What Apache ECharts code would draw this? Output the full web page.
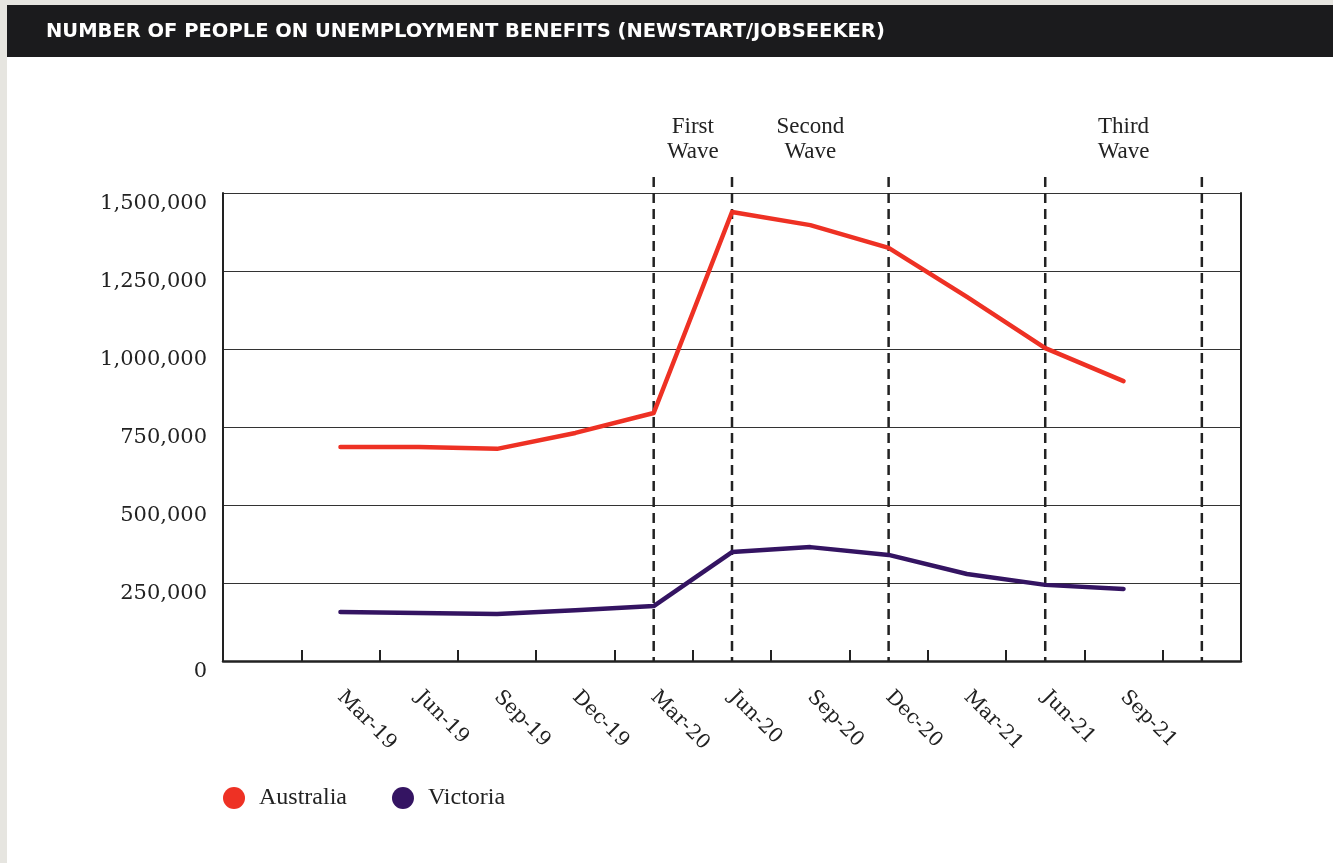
<!DOCTYPE html>
<html>
<head>
<meta charset="utf-8">
<script src="https://cdn.jsdelivr.net/npm/echarts@6/dist/echarts.min.js"></script>
<style>
  html, body { margin: 0; padding: 0; background: #ffffff; }
  #chart { width: 1333px; height: 863px; }
</style>
</head>
<body>
<div id="chart"></div>
<script>
// Quarterly counts of people on Newstart / JobSeeker payments
const titleText = 'NUMBER OF PEOPLE ON UNEMPLOYMENT BENEFITS (NEWSTART/JOBSEEKER)';
// blank slots at both ends keep a margin of one quarter either side
const quarters = ['', 'Mar-19', 'Jun-19', 'Sep-19', 'Dec-19', 'Mar-20', 'Jun-20',
                  'Sep-20', 'Dec-20', 'Mar-21', 'Jun-21', 'Sep-21', ' '];
const australia = [null, 686000, 686000, 680000, 731000, 795000, 1439000,
                   1397000, 1324000, 1167000, 1003000, 897000, null];
const victoria = [null, 157000, 154000, 151000, 163000, 176000, 349000,
                  365000, 340000, 279000, 244000, 231000, null];
const yTicks = [0, 250000, 500000, 750000, 1000000, 1250000, 1500000];
// dashed markers (category index) and the wave labels placed over them
const markerIndex = [5, 6, 8, 10, 12];
const waves = [
  { label: 'First\nWave', at: 5.5 },
  { label: 'Second\nWave', at: 7 },
  { label: 'Third\nWave', at: 11 }
];

const RED = '#ee3124';
const PURPLE = '#341462';
const INK = '#222222';
const axisFont = 'DejaVu Serif';
const textFont = 'Liberation Serif';

const chart = echarts.init(document.getElementById('chart'), null, { renderer: 'canvas' });

const fmt = v => v.toLocaleString('en-US');

const baseGraphics = [
  { type: 'rect', id: 'edgeLeft', silent: true, z: 0,
    shape: { x: 0, y: 0, width: 7, height: 863 }, style: { fill: '#e6e5e0' } },
  { type: 'rect', id: 'edgeTop', silent: true, z: 0,
    shape: { x: 0, y: 0, width: 1333, height: 5 }, style: { fill: '#e6e5e0' } },
  { type: 'rect', id: 'titleBar', silent: true, z: 1,
    shape: { x: 7, y: 5, width: 1326, height: 52 }, style: { fill: '#1b1b1d' } },
  { type: 'text', id: 'titleText', silent: true, z: 2, x: 46, y: 32,
    style: { text: titleText, fill: '#ffffff', font: 'bold 19.5px "DejaVu Sans"',
             textVerticalAlign: 'middle', textAlign: 'left' } }
];

chart.setOption({
  backgroundColor: '#ffffff',
  animation: false,
  grid: { left: 223, right: 92, top: 193, bottom: 202, containLabel: false },
  legend: {
    left: 218, top: 781,
    icon: 'circle', itemWidth: 22, itemHeight: 22, itemGap: 45,
    textStyle: { fontFamily: textFont, fontSize: 24, color: INK, padding: [0, 0, 0, 9] },
    data: ['Australia', 'Victoria']
  },
  xAxis: {
    type: 'category',
    data: quarters,
    boundaryGap: true,
    axisLine: { show: true, lineStyle: { color: INK, width: 2.5 } },
    axisTick: { show: true, inside: true, length: 11, interval: 0,
                lineStyle: { color: INK, width: 2 } },
    axisLabel: { interval: 0, rotate: -45, margin: 33, fontFamily: axisFont,
                 fontSize: 20, color: INK },
    splitLine: { show: false }
  },
  yAxis: [
    {
      type: 'value', min: yTicks[0], max: yTicks[yTicks.length - 1], interval: yTicks[1] - yTicks[0],
      axisLine: { show: true, lineStyle: { color: INK, width: 2 } },
      axisTick: { show: false },
      axisLabel: { margin: 16, fontFamily: axisFont, fontSize: 21, color: INK,
                   verticalAlign: 'top', formatter: fmt },
      splitLine: { show: true, lineStyle: { color: '#333333', width: 1.2 } }
    },
    {
      type: 'value', position: 'right', min: yTicks[0], max: yTicks[yTicks.length - 1],
      interval: yTicks[1] - yTicks[0],
      axisLine: { show: true, lineStyle: { color: INK, width: 2 } },
      axisTick: { show: false }, axisLabel: { show: false }, splitLine: { show: false }
    }
  ],
  series: [
    { name: 'Australia', type: 'line', data: australia, yAxisIndex: 0,
      symbol: 'none', color: RED, lineStyle: { color: RED, width: 4.5, cap: 'round', join: 'round' }, z: 4 },
    { name: 'Victoria', type: 'line', data: victoria, yAxisIndex: 0,
      symbol: 'none', color: PURPLE, lineStyle: { color: PURPLE, width: 4.5, cap: 'round', join: 'round' }, z: 4 }
  ],
  graphic: baseGraphics
});

// dashed wave markers and their labels, placed through the axis scales
const plotBottom = chart.convertToPixel({ gridIndex: 0 }, [0, yTicks[0]])[1];
const plotTop = chart.convertToPixel({ gridIndex: 0 }, [0, yTicks[yTicks.length - 1]])[1];
const xAt = i => {
  const lo = Math.floor(i), hi = Math.ceil(i);
  const a = chart.convertToPixel({ gridIndex: 0 }, [lo, 0])[0];
  const b = chart.convertToPixel({ gridIndex: 0 }, [hi, 0])[0];
  return a + (b - a) * (i - lo);
};
const extra = [];
markerIndex.forEach((idx, k) => {
  const x = xAt(idx);
  extra.push({ type: 'line', id: 'marker' + k, silent: true, z: 3,
    shape: { x1: x, y1: plotTop - 16, x2: x, y2: plotBottom },
    style: { stroke: INK, lineWidth: 2.5, lineDash: [10, 6] } });
});
waves.forEach((w, k) => {
  extra.push({ type: 'text', id: 'wave' + k, silent: true, z: 3,
    x: xAt(w.at), y: plotTop - 54,
    style: { text: w.label, fill: INK, font: '23px "' + textFont + '"',
             textAlign: 'center', textVerticalAlign: 'middle', lineHeight: 25 } });
});
chart.setOption({ graphic: baseGraphics.concat(extra) });
</script>
</body>
</html>
